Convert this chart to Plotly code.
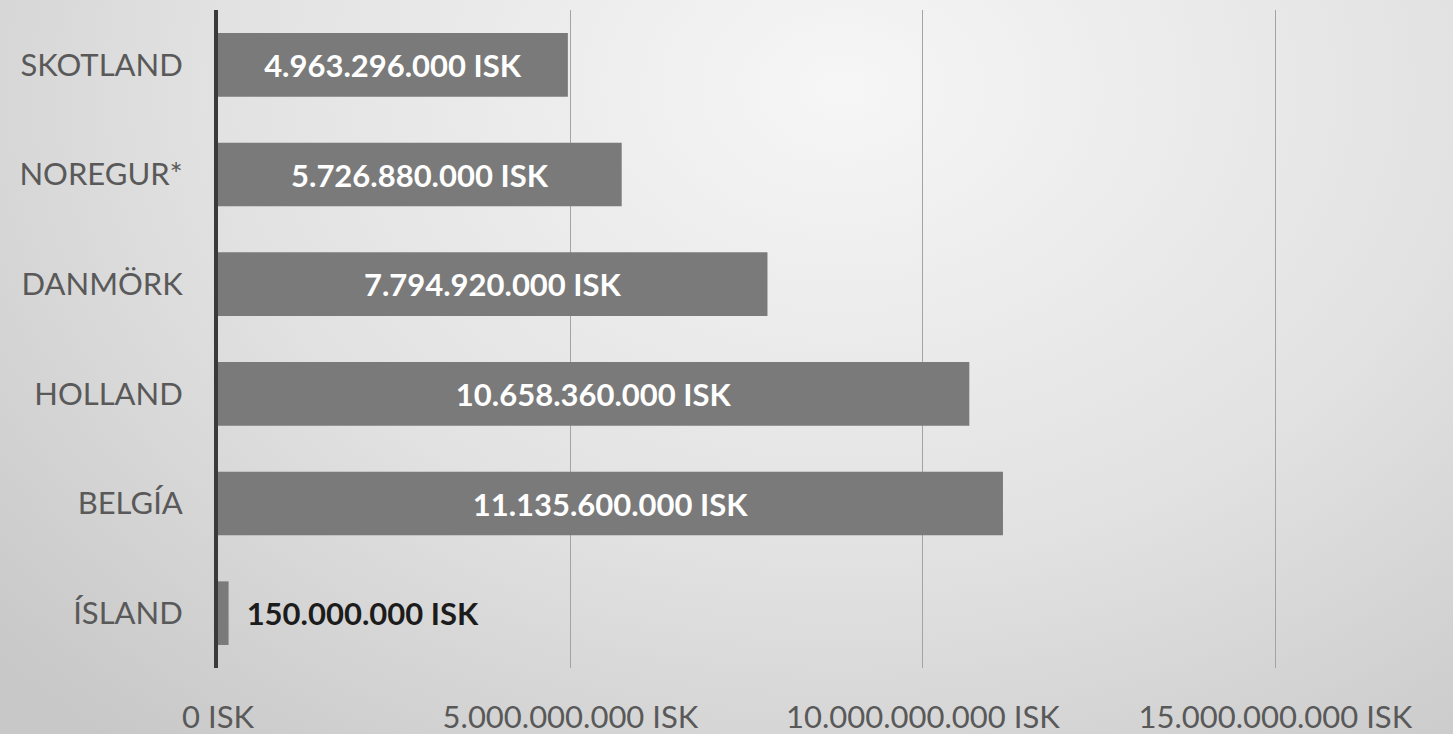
import base64
import plotly.graph_objects as go

countries = ["SKOTLAND", "NOREGUR*", "DANMÖRK", "HOLLAND", "BELGÍA", "ÍSLAND"]
values = [4963296000, 5726880000, 7794920000, 10658360000, 11135600000, 150000000]
label_pos = ["inside", "inside", "inside", "inside", "inside", "outside"]
label_colors = ["#ffffff", "#ffffff", "#ffffff", "#ffffff", "#ffffff", "#1c1c1c"]
x_ticks = [0, 5000000000, 10000000000, 15000000000]


def isk(v):
    return f"{v:,.0f}".replace(",", ".") + " ISK"


x_ticktext = [isk(v) for v in x_ticks]
label_templates = ["%{x:,.0f} ISK"] * 5 + ["\u00a0\u00a0%{x:,.0f} ISK"]

W, H = 1453, 734
L, R, T, B = 218, 0, 10, 66
pw, ph = W - L - R, H - T - B

svg = f'''<svg xmlns="http://www.w3.org/2000/svg" width="{W}" height="{H}" viewBox="0 0 {W} {H}" preserveAspectRatio="none">
<defs><radialGradient id="g" cx="{0.58*W}" cy="{0.12*H}" r="{0.78*W}" gradientUnits="userSpaceOnUse" gradientTransform="translate({0.58*W} {0.12*H}) scale(1 0.75) translate({-0.58*W} {-0.12*H})">
<stop offset="0" stop-color="#f6f6f6"/><stop offset="0.55" stop-color="#e2e2e2"/><stop offset="1" stop-color="#c8c8c8"/></radialGradient></defs>
<rect x="0" y="0" width="{W}" height="{H}" fill="url(#g)"/></svg>'''
src = "data:image/svg+xml;base64," + base64.b64encode(svg.encode()).decode()

fig = go.Figure(go.Bar(
    x=values, y=countries, orientation="h",
    marker=dict(color="#7a7a7a", line=dict(width=0)),
    texttemplate=label_templates,
    textposition=label_pos,
    insidetextanchor="middle",
    textangle=0,
    textfont=dict(family="Lato", size=31, color=label_colors, weight="bold"),
    cliponaxis=False,
    hoverinfo="skip",
))

fig.update_layout(
    width=W, height=H,
    margin=dict(l=L, r=R, t=T, b=B, autoexpand=False),
    separators=",.",
    paper_bgcolor="rgba(0,0,0,0)",
    plot_bgcolor="rgba(0,0,0,0)",
    bargap=0.42,
    showlegend=False,
    font=dict(family="Lato", color="#595959"),
    images=[dict(source=src, xref="paper", yref="paper",
                 x=-L / pw, y=1 + T / ph, sizex=W / pw, sizey=H / ph,
                 xanchor="left", yanchor="top", sizing="stretch", layer="below")],
    xaxis=dict(range=[0, 17.52e9], tickvals=x_ticks, ticktext=x_ticktext,
               showgrid=True, gridcolor="#a3a3a3", gridwidth=1, zeroline=False,
               showline=False, ticks="outside", ticklen=22, tickcolor="rgba(0,0,0,0)",
               tickfont=dict(size=31, color="#595959"), automargin=False, fixedrange=True),
    yaxis=dict(autorange="reversed", showgrid=False, zeroline=False,
               showline=True, linecolor="#3a3a3a", linewidth=4,
               ticks="outside", ticklen=25, tickcolor="rgba(0,0,0,0)",
               tickfont=dict(size=31, color="#595959"), automargin=False, fixedrange=True),
)

fig.write_html("out.html", config={"displayModeBar": False},
               post_script="document.body.style.margin='0';document.body.style.overflow='hidden';")
